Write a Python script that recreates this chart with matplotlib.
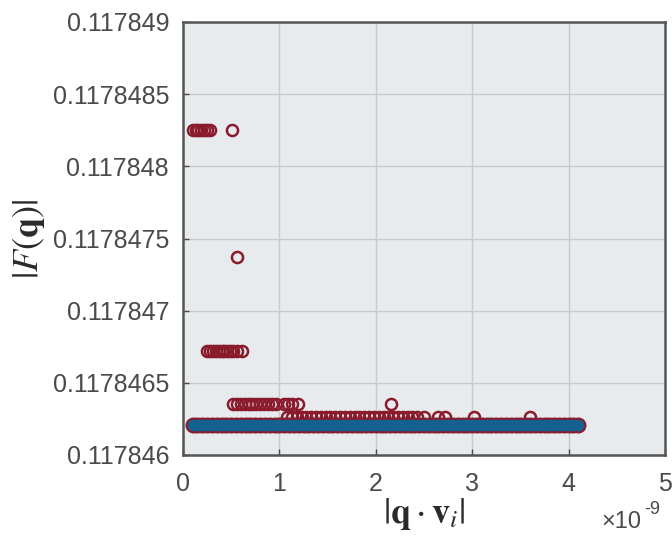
import numpy as np
import matplotlib.pyplot as plt
from matplotlib.ticker import FixedLocator, FormatStrFormatter

# x values are in units of 1e-9
# red open circles: upper clusters of |F(q)|
top_x = [0.10, 0.13, 0.16, 0.19, 0.22, 0.25, 0.28, 0.51]
top_y = 0.11784825

mid_x = [0.56]
mid_y = 0.11784737

c3_x = [0.25, 0.28, 0.31, 0.34, 0.37, 0.40, 0.43, 0.46, 0.49, 0.52, 0.56, 0.61]
c3_y = 0.11784672

c4_x = [0.52, 0.56, 0.60, 0.64, 0.68, 0.72, 0.76, 0.80, 0.84, 0.88, 0.92,
        0.96, 1.05, 1.09, 1.13, 1.19, 2.16]
c4_y = 0.11784635

c5_x = [1.08, 1.13, 1.18, 1.23, 1.28, 1.33, 1.38, 1.43, 1.48, 1.53, 1.58,
        1.63, 1.68, 1.73, 1.78, 1.83, 1.88, 1.93, 1.98, 2.03, 2.08, 2.13,
        2.18, 2.23, 2.28, 2.33, 2.38, 2.43, 2.50, 2.65, 2.72, 3.02, 3.60]
c5_y = 0.11784626

# baseline points (blue filled, red outline)
base_x = [0.10, 0.15, 0.20, 0.25, 0.30, 0.35, 0.40, 0.45, 0.50, 0.55, 0.60,
          0.65, 0.70, 0.75, 0.80, 0.85, 0.90, 0.95, 1.00, 1.05, 1.10, 1.15,
          1.20, 1.25, 1.30, 1.35, 1.40, 1.45, 1.50, 1.55, 1.60, 1.65, 1.70,
          1.75, 1.80, 1.85, 1.90, 1.95, 2.00, 2.05, 2.10, 2.15, 2.20, 2.25,
          2.30, 2.35, 2.40, 2.45, 2.50, 2.55, 2.60, 2.65, 2.70, 2.75, 2.80,
          2.85, 2.90, 2.95, 3.00, 3.05, 3.10, 3.15, 3.20, 3.25, 3.30, 3.35,
          3.40, 3.45, 3.50, 3.55, 3.60, 3.65, 3.70, 3.75, 3.80, 3.85, 3.90,
          3.95, 4.00, 4.05, 4.10]
base_y = 0.11784621

y_ticks = [0.117846, 0.1178465, 0.117847, 0.1178475, 0.117848, 0.1178485, 0.117849]
x_ticks = [0, 1, 2, 3, 4, 5]

red = '#8a1b2c'
blue = '#14608f'
txt = '#4a4a4a'

plt.rcParams['font.family'] = ['Liberation Sans', 'DejaVu Sans']
plt.rcParams['mathtext.fontset'] = 'stix'

fig = plt.figure(figsize=(6.72, 5.38), dpi=100)
ax = fig.add_axes([183/672, 1-455/538, (665-183)/672, (455-22)/538])
ax.set_facecolor('#e8ebee')

ms = 8
# red open circles for every point
for xs, yv in [(top_x, top_y), (mid_x, mid_y), (c3_x, c3_y), (c4_x, c4_y), (c5_x, c5_y)]:
    ax.plot(xs, [yv] * len(xs), 'o', ms=ms, mfc='none', mec=red, mew=1.8)
ax.plot(base_x, [base_y] * len(base_x), 'o', ms=ms + 1.5, mfc='none', mec=red, mew=2)
ax.plot(base_x, [base_y] * len(base_x), 'o', ms=ms, mfc=blue, mec=blue, mew=0.5)

ax.set_xlim(0, 5)
ax.set_ylim(0.117846, 0.117849)
ax.xaxis.set_major_locator(FixedLocator(x_ticks))
ax.yaxis.set_major_locator(FixedLocator(y_ticks))
ax.yaxis.set_major_formatter(FormatStrFormatter('%.7g'))
ax.xaxis.set_major_formatter(FormatStrFormatter('%d'))
ax.grid(True, color='#c8cacc', lw=1)
ax.set_axisbelow(True)
for s in ax.spines.values():
    s.set_color('#555555')
    s.set_linewidth(1.8)
ax.tick_params(colors=txt, labelsize=18, direction='in', length=4, width=1, pad=10)
ax.tick_params(axis='x', pad=12)

ax.set_ylabel(r'$|F(\mathbf{q})|$', fontsize=26, color='#2a2a2a', labelpad=4)
ax.set_xlabel(r'$|\mathbf{q}\cdot\mathbf{v}_i|$', fontsize=26, color='#2a2a2a', labelpad=0)
fig.text(0.955, 1-522/538, '×10', fontsize=17, color=txt, ha='right', va='center')
fig.text(0.958, 1-510/538, '-9', fontsize=13, color=txt, ha='left', va='center')

fig.savefig('out.png', dpi=100)
